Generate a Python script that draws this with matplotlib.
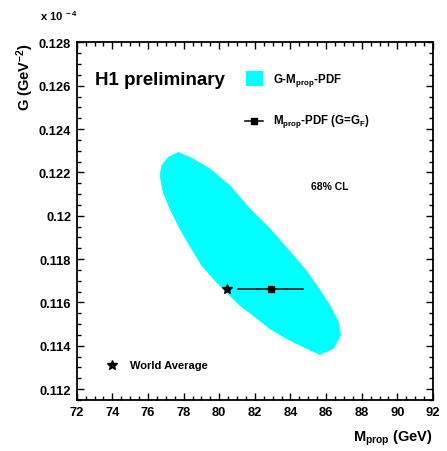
import matplotlib
matplotlib.use('Agg')
import matplotlib.pyplot as plt
from matplotlib.patches import Rectangle
from matplotlib.ticker import MultipleLocator

plt.rcParams['font.family'] = 'Liberation Sans'
plt.rcParams['font.weight'] = 'bold'
plt.rcParams['mathtext.fontset'] = 'custom'
plt.rcParams['mathtext.rm'] = 'Liberation Sans:bold'
plt.rcParams['mathtext.it'] = 'Liberation Sans:bold'
plt.rcParams['mathtext.bf'] = 'Liberation Sans:bold'
plt.rcParams['mathtext.default'] = 'rm'

# 68% CL contour of the G-Mprop-PDF fit (G in units of 1e-4 GeV^-2)
contour_m = [77.70, 78.36, 79.48, 80.61, 81.73, 82.85, 83.97, 84.81, 85.47, 86.22,
             86.68, 86.81, 86.40, 85.66, 84.72, 83.79, 82.85, 81.91, 81.17, 80.61,
             79.82, 79.03, 78.25, 77.80, 77.24, 76.86, 76.68, 76.77, 77.14]
contour_g = [0.12292, 0.12269, 0.12216, 0.12137, 0.12031, 0.11939, 0.11834, 0.11755,
             0.11678, 0.11585, 0.11510, 0.11448, 0.11387, 0.11360, 0.11395, 0.11433,
             0.11479, 0.11540, 0.11586, 0.11631, 0.11696, 0.11769, 0.11875, 0.11939,
             0.12031, 0.12108, 0.12185, 0.12231, 0.12269]

# Mprop-PDF fit with G fixed to G_F
fit_m = 82.88
fit_m_lo = 81.07
fit_m_hi = 84.69
g_fermi = 0.11664

# world average
wa_m = 80.42
wa_g = 0.11664

x_ticks = [72, 74, 76, 78, 80, 82, 84, 86, 88, 90, 92]
y_ticks = [0.112, 0.114, 0.116, 0.118, 0.12, 0.122, 0.124, 0.126, 0.128]
y_tick_labels = ['0.112', '0.114', '0.116', '0.118', '0.12', '0.122', '0.124', '0.126', '0.128']

fig = plt.figure(figsize=(4.47, 4.52), dpi=100)
ax = fig.add_axes([0.1716, 0.1128, 0.7971, 0.7914])

ax.fill(contour_m, contour_g, color='#00ffff', lw=0.5, ec='#00ffff')
ax.plot([fit_m_lo, fit_m_hi], [g_fermi, g_fermi], color='black', lw=1.1)
ax.plot([fit_m], [g_fermi], 's', color='black', ms=5)
ax.plot([wa_m], [wa_g], '*', color='black', ms=7)

ax.set_xlim(72, 92)
ax.set_ylim(0.1115, 0.128)
ax.set_xticks(x_ticks)
ax.set_xticklabels([str(v) for v in x_ticks])
ax.set_yticks(y_ticks)
ax.set_yticklabels(y_tick_labels)
ax.xaxis.set_minor_locator(MultipleLocator(0.5))
ax.yaxis.set_minor_locator(MultipleLocator(0.0005))
ax.tick_params(which='both', direction='in', top=True, right=True, width=1.0, labelsize=9.3)
ax.tick_params(which='major', length=5, pad=4)
ax.tick_params(which='minor', length=2.8)
for s in ax.spines.values():
    s.set_linewidth(1.3)

ax.text(1.0, -0.103, r'M$_{prop}$ (GeV)', transform=ax.transAxes, ha='right', va='center', fontsize=10.5)
ax.text(-0.145, 1.0, r'G (GeV$^{-2}$)', transform=ax.transAxes, ha='center', va='top',
        rotation=90, fontsize=10.5)
ax.text(-0.103, 1.075, r'x 10$^{\ -4}$', transform=ax.transAxes, ha='left', va='center', fontsize=8)

ax.text(0.051, 0.895, 'H1 preliminary', transform=ax.transAxes, ha='left', va='center', fontsize=13.5)

ax.add_patch(Rectangle((0.475, 0.879), 0.049, 0.040, transform=ax.transAxes,
                       color='#00ffff', lw=0))
ax.text(0.550, 0.895, r'G-M$_{prop}$-PDF', transform=ax.transAxes, ha='left', va='center', fontsize=8.3)
ax.plot([0.473, 0.524], [0.781, 0.781], color='black', lw=1.1, transform=ax.transAxes)
ax.plot([0.4985], [0.781], 's', color='black', ms=5, transform=ax.transAxes)
ax.text(0.550, 0.781, r'M$_{prop}$-PDF (G=G$_F$)', transform=ax.transAxes, ha='left', va='center',
        fontsize=8.3)

ax.text(0.711, 0.598, '68% CL', transform=ax.transAxes, ha='center', va='center', fontsize=7.5)

ax.plot([0.100], [0.099], '*', color='black', ms=7, transform=ax.transAxes)
ax.text(0.150, 0.099, 'World Average', transform=ax.transAxes, ha='left', va='center', fontsize=8)

fig.savefig('out.png', dpi=100)
